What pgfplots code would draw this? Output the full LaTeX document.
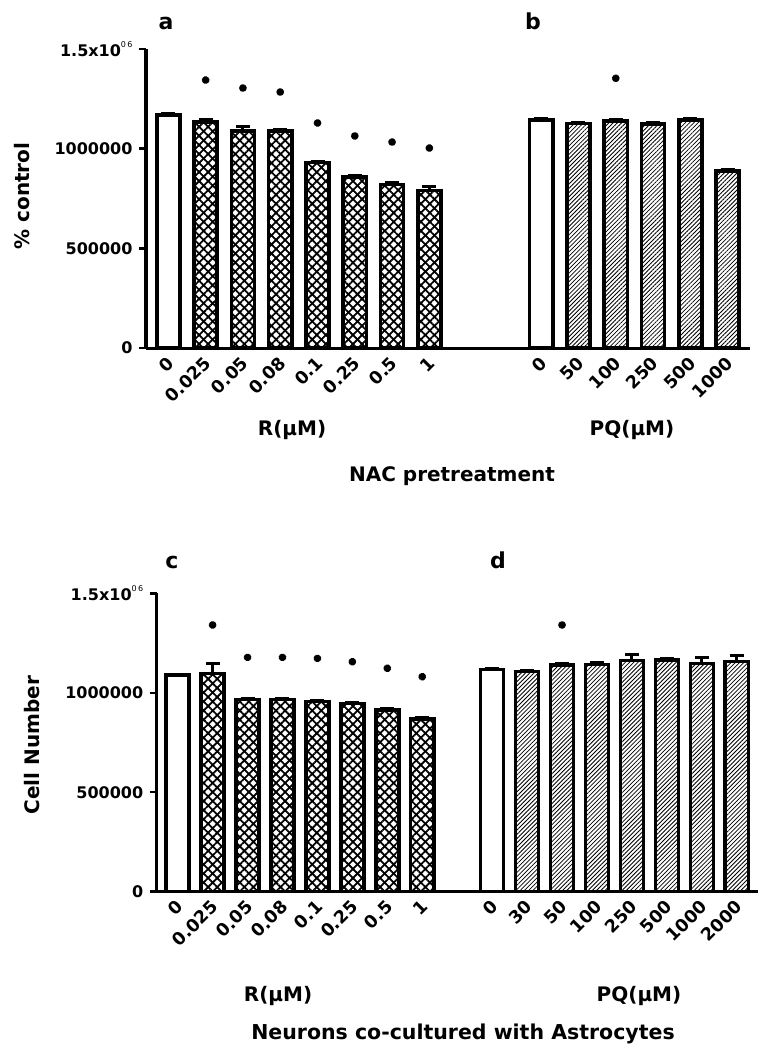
\documentclass[border=0pt]{standalone}
\usepackage{fontspec}
\setmainfont{DejaVu Sans}
\usepackage{pgfplots}
\usepackage{pgfplotstable}
\pgfplotsset{compat=1.18}
\usetikzlibrary{patterns.meta}

% ---------- panel a ----------
\pgfplotstableread{
x y e
0 1169000 5000
}\aCtrl
\pgfplotstableread{
x y e
1 1135000 12000
2 1089000 20000
3 1089000 5000
4 930000 5000
5 859000 6000
6 820000 10000
7 790000 20000
}\aR
\pgfplotstableread{
x y
1 1344000
2 1304000
3 1284000
4 1129000
5 1064000
6 1033000
7 1003000
}\aStar
% ---------- panel b ----------
\pgfplotstableread{
x y e
10 1144000 5000
}\bCtrl
\pgfplotstableread{
x y e
11 1127000 5000
12 1139000 5000
13 1124000 8000
14 1144000 5000
15 889000 8000
}\bPQ
\pgfplotstableread{
x y
12 1353000
}\bStar
% ---------- panel c ----------
\pgfplotstableread{
x y e
0 1089000 5000
}\cCtrl
\pgfplotstableread{
x y e
1 1098000 47000
2 967000 5000
3 967000 5000
4 957000 5000
5 947000 5000
6 913000 8000
7 867000 8000
}\cR
\pgfplotstableread{
x y
1 1341000
2 1178000
3 1178000
4 1173000
5 1156000
6 1123000
7 1081000
}\cStar
% ---------- panel d ----------
\pgfplotstableread{
x y e
9 1118000 5000
}\dCtrl
\pgfplotstableread{
x y e
10 1106000 5000
11 1139000 8000
12 1143000 8000
13 1161000 30000
14 1165000 5000
15 1148000 30000
16 1156000 29000
}\dPQ
\pgfplotstableread{
x y
11 1341000
}\dStar

\newcommand{\fs}[1]{\fontsize{#1bp}{#1bp}\selectfont}

\pgfplotsset{
  panel/.style={
    scale only axis, ymin=0, ymax=1500000,
    scaled y ticks=false,
    axis x line*=bottom, axis y line*=left,
    axis line style={line width=3bp, black},
    ytick={0,500000,1000000,1500000},
    yticklabels={0,500000,1000000,{1.5x10\raisebox{0.6em}{\fs{8}\mdseries 0\,6}}},
    tick align=outside, major tick length=7bp,
    ytick style={line width=2.5bp, black},
    xtick style={draw=none},
    x tick label style={rotate=45, anchor=east, font=\fs{17.5}\bfseries, inner sep=1bp, yshift=-5bp, xshift=-1bp},
    y tick label style={font=\fs{16}\bfseries, xshift=-3bp},
    clip=false,
  },
  ctrlbar/.style={ybar, bar shift=0pt, bar width=#1, draw=black, line width=3.5bp, fill=white,
    error bars/.cd, y dir=plus, y explicit,
    error bar style={line width=3bp, black},
    error mark options={rotate=90, mark size=7bp, line width=3bp, black}},
  hatchbg/.style={ybar, bar shift=0pt, bar width=#1, draw=none, fill=white},
  hatchA/.style={ybar, bar shift=0pt, bar width=#1, draw=none,
    pattern={Lines[angle=45, distance=6.4bp, line width=1.8bp]}},
  hatchB/.style={ybar, bar shift=0pt, bar width=#1, draw=black, line width=3.5bp,
    pattern={Lines[angle=-45, distance=6.4bp, line width=1.8bp]},
    error bars/.cd, y dir=plus, y explicit,
    error bar style={line width=3bp, black},
    error mark options={rotate=90, mark size=7bp, line width=3bp, black}},
  hatchPQ/.style={ybar, bar shift=0pt, bar width=#1, draw=black, line width=3.5bp,
    pattern={Lines[angle=45, distance=3bp, line width=0.8bp]},
    error bars/.cd, y dir=plus, y explicit,
    error bar style={line width=3bp, black},
    error mark options={rotate=90, mark size=7bp, line width=3bp, black}},
  star/.style={only marks, mark=asterisk, mark size=3.6bp, mark options={line width=3bp, black}},
}

\begin{document}
\begin{tikzpicture}
\useasboundingbox (0bp,0bp) rectangle (765bp,-1050bp);

% ================= top =================
\begin{axis}[panel,
  at={(146bp,-348bp)}, anchor=south west,
  width=604bp, height=299bp,
  xmin=-0.6, xmax=15.6,
  xtick={0,1,2,3,4,5,6,7,10,11,12,13,14,15},
  xticklabels={0,0.025,0.05,0.08,0.1,0.25,0.5,1,0,50,100,250,500,1000},
]
\addplot[ctrlbar=0.62] table[x=x, y=y, y error=e] {\aCtrl};
\addplot[hatchbg=0.62] table[x=x, y=y] {\aR};
\addplot[hatchA=0.62] table[x=x, y=y] {\aR};
\addplot[hatchB=0.62] table[x=x, y=y, y error=e] {\aR};
\addplot[star] table[x=x, y=y] {\aStar};
\addplot[ctrlbar=0.62] table[x=x, y=y, y error=e] {\bCtrl};
\addplot[hatchbg=0.62] table[x=x, y=y] {\bPQ};
\addplot[hatchPQ=0.62] table[x=x, y=y, y error=e] {\bPQ};
\addplot[star] table[x=x, y=y] {\bStar};
\end{axis}

% ================= bottom =================
\begin{axis}[panel,
  at={(156.7bp,-891.7bp)}, anchor=south west,
  width=601bp, height=298.4bp,
  xmin=-0.6, xmax=16.6,
  xtick={0,1,2,3,4,5,6,7,9,10,11,12,13,14,15,16},
  xticklabels={0,0.025,0.05,0.08,0.1,0.25,0.5,1,0,30,50,100,250,500,1000,2000},
]
\addplot[ctrlbar=0.66] table[x=x, y=y, y error=e] {\cCtrl};
\addplot[hatchbg=0.66] table[x=x, y=y] {\cR};
\addplot[hatchA=0.66] table[x=x, y=y] {\cR};
\addplot[hatchB=0.66] table[x=x, y=y, y error=e] {\cR};
\addplot[star] table[x=x, y=y] {\cStar};
\addplot[ctrlbar=0.66] table[x=x, y=y, y error=e] {\dCtrl};
\addplot[hatchbg=0.66] table[x=x, y=y] {\dPQ};
\addplot[hatchPQ=0.66] table[x=x, y=y, y error=e] {\dPQ};
\addplot[star] table[x=x, y=y] {\dStar};
\end{axis}

% ================= text =================
\node[anchor=base, font=\fs{22}\bfseries] at (166bp,-29bp) {a};
\node[anchor=base, font=\fs{22}\bfseries] at (533bp,-29bp) {b};
\node[anchor=base, font=\fs{22}\bfseries] at (172bp,-568bp) {c};
\node[anchor=base, font=\fs{22}\bfseries] at (498bp,-568bp) {d};

\node[rotate=90, font=\fs{20}\bfseries] at (22bp,-196bp) {\% control};
\node[rotate=90, font=\fs{20}\bfseries] at (32bp,-745bp) {Cell Number};

\node[font=\fs{20}\bfseries] at (292bp,-430bp) {R(µM)};
\node[font=\fs{20}\bfseries] at (632bp,-430bp) {PQ(µM)};
\node[font=\fs{20}\bfseries] at (452bp,-476bp) {NAC pretreatment};

\node[font=\fs{20}\bfseries] at (278bp,-996bp) {R(µM)};
\node[font=\fs{20}\bfseries] at (639bp,-996bp) {PQ(µM)};
\node[font=\fs{20.5}\bfseries] at (463bp,-1034bp) {Neurons co-cultured with Astrocytes};
\end{tikzpicture}
\end{document}
